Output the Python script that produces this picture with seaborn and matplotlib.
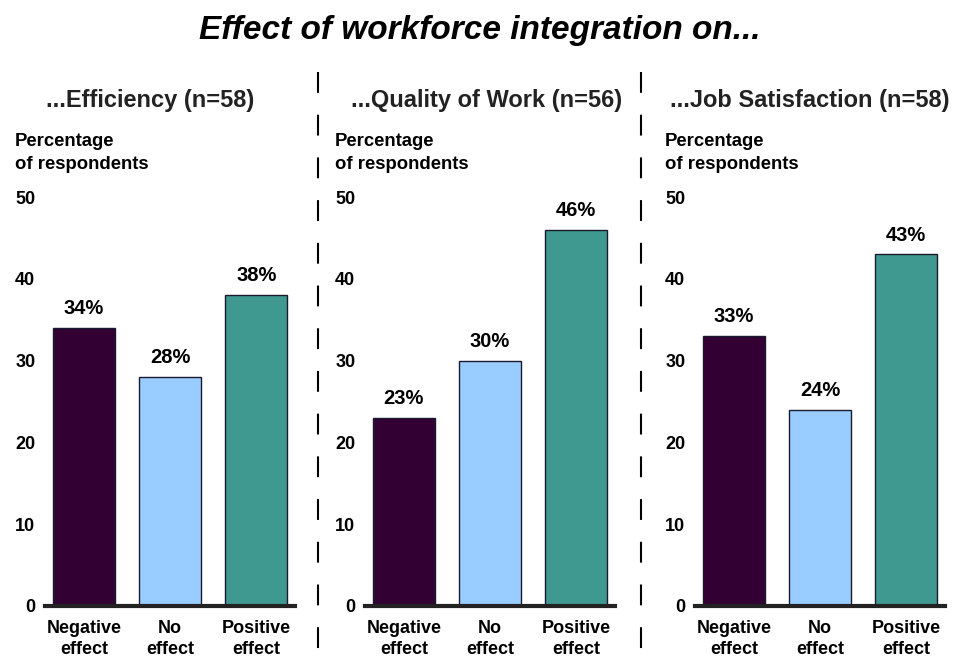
import numpy as np
import pandas as pd
import matplotlib
matplotlib.use("Agg")
import matplotlib.pyplot as plt
import seaborn as sns
from matplotlib.lines import Line2D

# Data
categories = ["Negative\neffect", "No\neffect", "Positive\neffect"]
panel_titles = ["...Efficiency (n=58)", "...Quality of Work (n=56)", "...Job Satisfaction (n=58)"]
efficiency = [34, 28, 38]
quality = [23, 30, 46]
satisfaction = [33, 24, 43]
bar_colors = ["#330033", "#99CCFF", "#3F9990"]
y_ticks = [0, 10, 20, 30, 40, 50]

sns.set_style("white")
plt.rcParams["font.family"] = ["Liberation Sans", "DejaVu Sans"]
plt.rcParams["font.weight"] = "bold"
plt.rcParams["text.color"] = "black"
plt.rcParams["xtick.color"] = "black"
plt.rcParams["ytick.color"] = "black"

W, H = 956, 658
fig = plt.figure(figsize=(W / 100, H / 100), dpi=100)

# axes placement in pixels (left edge, width); shared bottom/top
lefts = [45, 365, 695]
ax_w = 250
y0_px, y50_px = 606, 197

fig.text(480 / W, 1 - 30 / H, "Effect of workforce integration on...",
         ha="center", va="center", fontsize=24, fontweight="bold", style="italic")

header_x = [150, 487, 810]
for i, (vals, title) in enumerate(zip([efficiency, quality, satisfaction], panel_titles)):
    left = lefts[i]
    ax = fig.add_axes([left / W, 1 - y0_px / H, ax_w / W, (y0_px - y50_px) / H])
    df = pd.DataFrame({"cat": categories, "pct": vals})
    sns.barplot(data=df, x="cat", y="pct", hue="cat", palette=bar_colors, saturation=1,
                width=0.72, edgecolor="#1a1a2e", linewidth=1.0, legend=False, ax=ax)
    ax.set_xlim(-0.45, 2.45)
    ax.set_ylim(0, 50)
    ax.set_yticks(y_ticks)
    ax.set_xlabel("")
    ax.set_ylabel("")
    for s in ["top", "right", "left"]:
        ax.spines[s].set_visible(False)
    ax.spines["bottom"].set_linewidth(3)
    ax.spines["bottom"].set_color("#222222")
    ax.spines["bottom"].set_zorder(5)
    ax.tick_params(axis="both", length=0)
    ax.tick_params(axis="y", pad=7, labelsize=13)
    ax.tick_params(axis="x", pad=10, labelsize=13)
    for lab in ax.get_xticklabels() + ax.get_yticklabels():
        lab.set_fontweight("bold")
    for lab in ax.get_xticklabels():
        lab.set_linespacing(1.35)
    for j, v in enumerate(vals):
        ax.annotate(f"{v}%", (j, v), xytext=(0, 7), textcoords="offset points",
                    ha="center", va="bottom", fontsize=14.5, fontweight="bold")

    fig.text(header_x[i] / W, 1 - 101 / H, title, ha="center", va="center",
             fontsize=17, fontweight="bold", color="#222222")
    fig.text((left - 30) / W, 1 - 153 / H, "Percentage\nof respondents",
             ha="left", va="center", fontsize=13.3, fontweight="bold", linespacing=1.45)

# dashed separators between panels
for xs in [318, 641]:
    fig.add_artist(Line2D([xs / W, xs / W], [1 - 72 / H, 0], color="black",
                          lw=1.5, linestyle=(0, (10, 10.5))))

fig.savefig("out.png", dpi=100, facecolor="white")
